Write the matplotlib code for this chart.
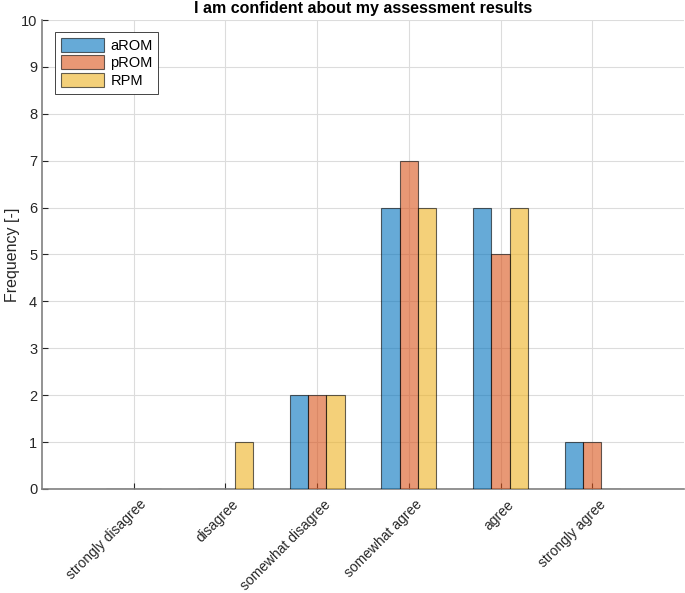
import numpy as np
import matplotlib.pyplot as plt
import matplotlib.transforms as mtrans

plt.rcParams['font.family'] = ['Liberation Sans', 'DejaVu Sans']

categories = ["strongly disagree", "disagree", "somewhat disagree",
              "somewhat agree", "agree", "strongly agree"]
arom = [0, 0, 2, 6, 6, 1]
prom = [0, 0, 2, 7, 5, 1]
rpm = [0, 1, 2, 6, 6, 0]
series = {"aROM": arom, "pROM": prom, "RPM": rpm}

# matlab default colours, face alpha 0.6
colors = ["#0072BD", "#D95319", "#EDB120"]
axcol = "#262626"

fig = plt.figure(figsize=(6.85, 5.93), dpi=100)
ax = fig.add_axes([42 / 685, 104 / 593, 642 / 685, 469 / 593])

x = np.arange(1, len(categories) + 1)
w = 0.2
for i, (name, vals) in enumerate(series.items()):
    ax.bar(x + (i - 1) * w, vals, width=w, color=colors[i], alpha=0.6,
           edgecolor="black", linewidth=0.8, label=name, zorder=3)

ax.set_xlim(0, 7)
ax.set_ylim(0, 10)
ax.set_yticks(range(0, 11))
ax.set_xticks(x)
ax.set_xticklabels(categories, rotation=45, ha="right", rotation_mode="anchor")
ax.tick_params(direction="in", length=4, colors=axcol, labelsize=10.5,
               width=0.8)
ax.tick_params(axis="x", pad=6, labelsize=10)
shift = mtrans.ScaledTranslation(6 / 100, 0, fig.dpi_scale_trans)
for lab in ax.get_xticklabels():
    lab.set_transform(lab.get_transform() + shift)
ax.grid(True, color="#dcdcdc", linewidth=0.8, zorder=0)
ax.set_axisbelow(True)
for s in ["top", "right"]:
    ax.spines[s].set_visible(False)
for s in ["left", "bottom"]:
    ax.spines[s].set_color("#808080")
    ax.spines[s].set_linewidth(1.2)

ax.set_ylabel("Frequency [-]", fontsize=11.5, color=axcol)
ax.yaxis.set_label_coords(-22 / 642, 0.5)
fig.text(363 / 685, 1 - 9 / 593, "I am confident about my assessment results",
         fontsize=11.5, fontweight="bold", color="black",
         ha="center", va="center")

leg = ax.legend(loc="upper left", bbox_to_anchor=(0.02, 0.975), fontsize=10.5,
                fancybox=False, framealpha=1, edgecolor=axcol,
                handlelength=3.0, handleheight=1.1, handletextpad=0.4,
                borderpad=0.4, labelspacing=0.2, borderaxespad=0)
leg.get_frame().set_linewidth(0.6)

fig.savefig("out.png", dpi=100)
